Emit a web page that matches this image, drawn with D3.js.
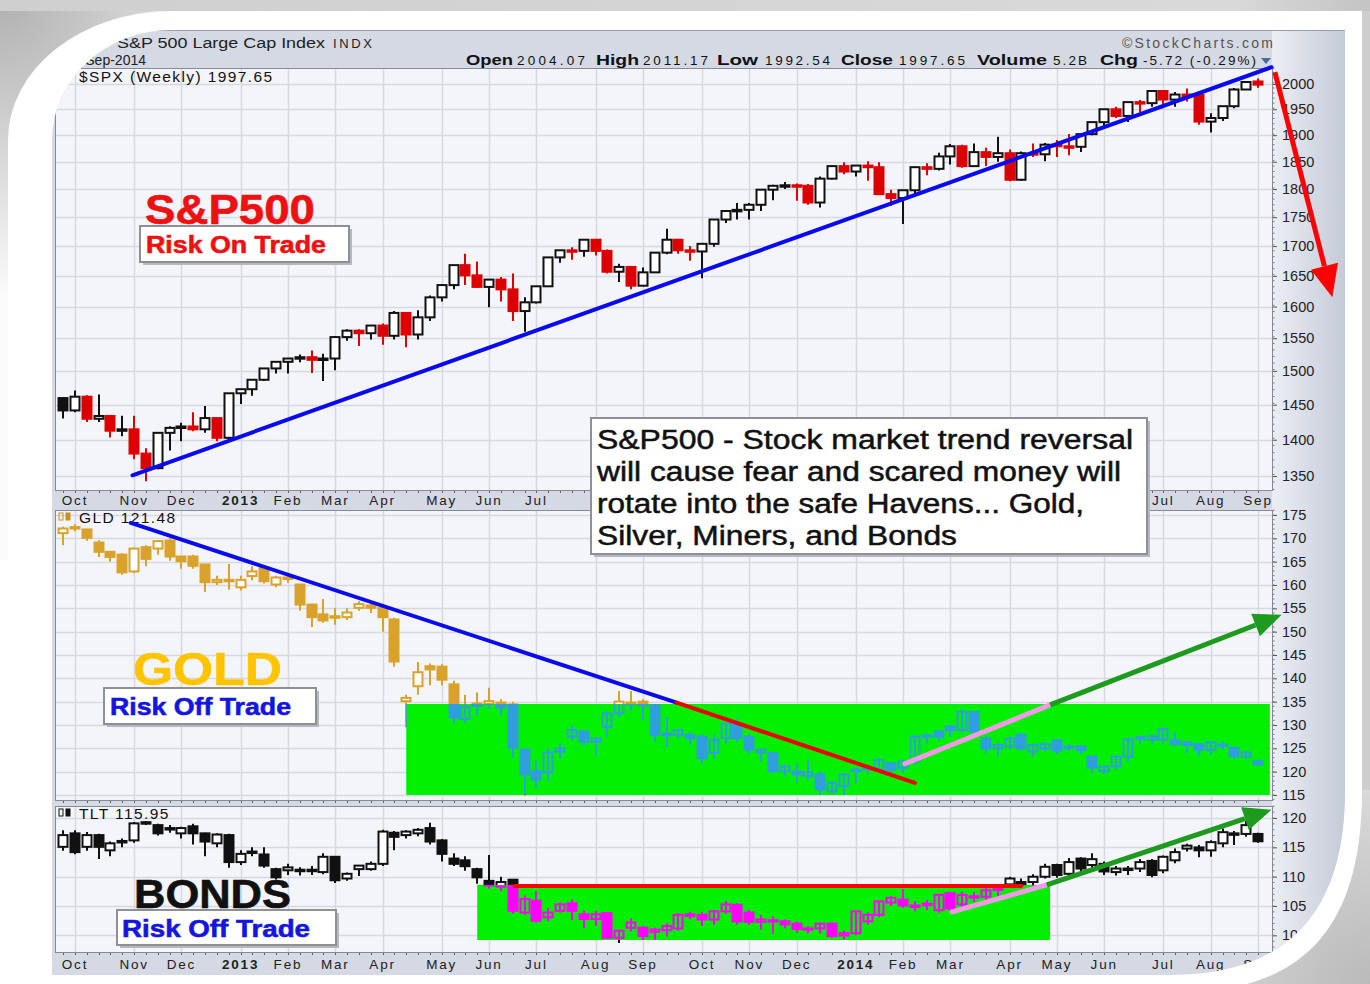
<!DOCTYPE html>
<meta http-equiv="Content-type" content="text/html; charset=UTF-8"/>
<style>body { margin: 0; background: #fff; } * { font-family: 'Liberation Sans', Arial, sans-serif }</style>
<svg width="1370" height="984"></svg>
<script src="https://d3js.org/d3.v7.min.js"></script>
<script>
// weekly bars, one per Monday starting here
var firstWeek = "2012-09-24";

// $SPX weekly [open, high, low, close]
var spx = [
  [1459,1460,1430,1441],[1441,1471,1439,1461],[1461,1464,1425,1429],[1429,1465,1425,1433],
  [1433,1435,1403,1412],[1412,1434,1405,1414],[1414,1434,1373,1380],[1380,1388,1343,1360],
  [1360,1409,1359,1409],[1409,1419,1385,1416],[1416,1424,1398,1418],[1418,1439,1412,1414],
  [1414,1448,1410,1430],[1430,1431,1398,1402],[1402,1467,1398,1466],[1466,1472,1451,1472],
  [1472,1486,1463,1486],[1486,1504,1485,1503],[1503,1514,1496,1513],[1513,1518,1496,1518],
  [1518,1525,1513,1520],[1520,1531,1497,1516],[1516,1526,1485,1518],[1518,1553,1501,1551],
  [1551,1564,1546,1561],[1561,1564,1538,1557],[1557,1570,1548,1569],[1569,1573,1540,1553],
  [1553,1593,1548,1589],[1589,1589,1536,1555],[1555,1594,1548,1582],[1582,1618,1577,1614],
  [1614,1636,1608,1634],[1634,1667,1628,1667],[1667,1687,1635,1650],[1650,1674,1630,1631],
  [1631,1644,1599,1643],[1643,1648,1608,1627],[1627,1654,1577,1592],[1592,1615,1560,1606],
  [1606,1632,1605,1632],[1632,1680,1632,1680],[1680,1693,1672,1692],[1692,1698,1677,1691],
  [1691,1710,1682,1710],[1710,1710,1684,1691],[1691,1694,1654,1656],[1656,1670,1640,1664],
  [1664,1666,1628,1633],[1633,1664,1633,1655],[1655,1690,1655,1688],[1688,1730,1686,1710],
  [1710,1711,1687,1692],[1692,1700,1675,1690],[1690,1704,1646,1703],[1703,1745,1699,1745],
  [1745,1759,1740,1760],[1760,1775,1746,1762],[1762,1775,1746,1771],[1771,1799,1761,1798],
  [1798,1808,1780,1805],[1805,1813,1800,1806],[1806,1810,1779,1805],[1805,1809,1772,1775],
  [1775,1823,1767,1818],[1818,1843,1818,1841],[1841,1849,1827,1831],[1831,1843,1823,1842],
  [1842,1851,1815,1839],[1839,1849,1790,1790],[1790,1799,1770,1783],[1783,1798,1738,1797],
  [1797,1841,1791,1839],[1839,1847,1825,1836],[1836,1867,1834,1859],[1859,1883,1845,1878],
  [1878,1882,1839,1841],[1841,1884,1841,1867],[1867,1876,1842,1858],[1858,1897,1850,1865],
  [1865,1873,1814,1816],[1816,1869,1815,1865],[1865,1884,1859,1863],[1863,1885,1851,1881],
  [1881,1891,1859,1878],[1878,1902,1862,1877],[1877,1901,1868,1901],[1901,1924,1900,1924],
  [1924,1950,1915,1949],[1949,1955,1933,1936],[1936,1963,1925,1963],[1963,1968,1944,1961],
  [1961,1985,1955,1985],[1985,1985,1952,1968],[1968,1984,1955,1978],[1978,1991,1965,1977],
  [1977,1985,1920,1925],[1925,1942,1905,1932],[1932,1955,1927,1955],[1955,1992,1952,1988],
  [1988,2006,1988,2003],[2004.07,2011.17,1992.54,1997.65]
];

// GLD weekly [open, high, low, close]
var gld = [
  [171,172.5,168.5,172],[172,173,171.5,172.3],[171.8,172,169.5,170],[169,169.6,166,167],
  [167,167.2,165,165.9],[166.4,166.8,162.2,162.6],[162.8,168,162.5,167.7],[168,168.5,164,165.5],
  [167.7,169.5,166.5,169.3],[169.4,170,165.2,166],[166,166.2,163.5,165],[166,166.5,163.5,164],
  [164.3,164.5,158.5,160.5],[160.5,162,160,161],[161,164.5,159,160.8],[159.4,162,158.8,161],
  [161.8,164,161,162.8],[163.6,164,160.3,160.7],[160,162,159.5,161.5],[161.5,162,160.5,161.3],
  [160,160.2,154.5,155.7],[155.7,156,151,153],[153.6,157,151.9,152.3],[153.2,155,151.5,153],
  [153,155,152.5,154],[155,156.5,154.5,155.8],[155.5,156.5,154,155],[155,156,150,153],
  [152.5,153,142.5,143.5],[135,136.5,129.5,135.7],[138.2,143.5,136.5,141.2],[142.5,143.2,138.5,141.8],
  [142.4,143,138.5,139.6],[138.6,139.5,130.5,131.5],[131.2,136.5,130.5,133.8],[134,137,132,134.5],
  [134.4,138,133.5,135],[134.7,135.5,132,133.6],[134.3,135,123,125],[124.6,125,114.8,119.3],
  [120,122.5,116.5,118.2],[119.7,125,118,124],[124.2,126,122.8,124.9],[127.4,129.9,126.7,128.8],
  [128.5,129,125.6,126.3],[126.3,127.5,123.5,127],[129.5,133,127.5,132.4],[132.4,137.3,131.7,134.9],
  [134.7,137.3,133,134.5],[134.9,135.5,131,134.1],[134.1,134.5,126.4,127.8],[127.8,131.7,125.3,128],
  [127.8,129.2,127.2,128.8],[127.8,128.5,125.8,127.1],[127.4,128,121.7,122.8],[123.9,128,122.8,126.7],
  [127.1,130.5,126,130.2],[129.9,131.3,126.3,127.1],[127.4,128,123.9,124.6],[124,125,122.1,124.6],
  [123.9,124.2,119.6,120],[120,121.5,119,121],[119.9,121.8,117.6,119.3],[119,122.4,118.2,119.8],
  [119.3,120,115,116.1],[115.7,118,115.2,117.5],[116.8,119.7,115,119.3],[120.3,121,117.5,120],
  [120.4,121.4,119.6,120.7],[120.3,122.8,119.8,122.4],[121.7,122,119.3,120.3],[120.7,122.5,119.7,122.1],
  [122.1,127.9,121.5,127.4],[127.4,128.2,126,127.7],[128.5,129,126.6,127.4],[129.6,130,127.5,128.8],
  [128.8,133.4,128.3,132.7],[132.7,133,127.5,128.5],[127,127.7,123.9,124.9],[124.9,126.3,123.5,125.6],
  [125.3,127.5,124.8,127],[127.8,128.3,124.5,124.9],[124.2,126,123.2,125.6],[124.8,126.3,124.3,125.8],
  [126.6,127,123.8,124.4],[125,126,124.5,125.3],[125.3,125.6,123.8,124.5],[123.1,123.4,119.7,120.8],
  [120,121.4,119.5,121],[121,123.4,120.5,123.1],[123.1,127.3,122.2,126.8],[127,127.8,126,127.3],
  [126.8,128,126,127.5],[126.8,129.5,126,129],[126.6,128.5,125.3,125.8],[126.2,126.6,124,125.6],
  [125.8,126,123.4,124.6],[124.6,126.6,123.8,126.2],[125.6,126.5,124.8,125.7],[125,125.3,122.7,123.2],
  [123.1,124.5,122.7,124],[122.2,122.4,121.2,121.48]
];

// TLT weekly [open, high, low, close]
var tlt = [
  [115,117.9,114.4,117],[117.3,117.9,113.8,114.1],[115,117.6,114.4,117],[117,117.3,113,115],
  [114.4,116,113.5,115.6],[115.8,116.5,115,116],[116.1,119.3,115.8,119],[119,119.5,118.8,119.2],
  [118.7,119,117,117.3],[118,118.8,117.5,118.2],[117.3,118.5,116.5,118.2],[118.5,119,115.5,117.3],
  [117.3,117.5,113.5,115.9],[115.6,117.4,115,117.1],[117,117.3,111.5,112.4],[112.4,114.5,112,113.8],
  [114.1,115,113.5,114.2],[113.7,115,111.5,111.8],[111.2,111.5,109.5,109.8],[111,112.2,110.3,111.5],
  [111.1,111.6,110.2,111],[111,111.8,110.3,111.1],[110.7,114,110.4,113.3],[113.3,113.5,108.9,109.3],
  [109.6,110.7,109.3,110.4],[111.2,112,110.1,111.8],[111.2,112.6,111,112.1],[112.1,118,111.8,117.6],
  [117.4,117.8,114.5,116.7],[117,117.9,116.5,117.6],[117.3,118.3,116.9,117.9],[118.2,119.2,115.5,115.9],
  [116.1,116.4,112.6,113.8],[113,114,111.8,112.1],[112.7,113.5,111,111.7],[111.2,111.5,108.8,109.8],
  [109.2,113.7,108,108.4],[108.2,110,107.5,109],[109.4,109.6,103.7,104.1],[103.8,106.8,103.5,106.1],
  [105.8,107.5,102.2,102.4],[103,104.6,102.4,103.8],[104.1,105.6,103.9,105.2],[105.4,106.1,102.6,104.1],
  [103.5,104.2,101.2,102.7],[102.7,104.2,101.6,103.5],[103.7,103.9,99.4,99.5],[99.5,101,98.7,100.7],
  [101.2,102.9,100.7,102.1],[101.2,101.6,99.2,99.8],[100.5,101.3,99.2,100.9],[100.8,102,99.8,101.5],
  [101.1,103.8,100.8,103.4],[103.2,104,102.8,103.5],[103.4,104,101.6,102.6],[102.6,104.3,101.8,104],
  [104,105.9,103.7,105.2],[105.1,105.5,101.8,102.3],[103.8,104.4,101.8,102.2],[102.2,103.5,101,102.6],
  [102.5,103.2,100.3,102.3],[102.3,102.7,101.2,101.8],[101.9,102.4,100.5,101],[101,101.6,100.3,101.1],
  [101.1,102.2,100.3,101.9],[101.9,102.2,99.6,99.8],[99.9,100.8,99.3,100.3],[100.3,104.2,100,104],
  [102.3,103.9,101.8,103.4],[103.4,106,103.1,105.7],[105.5,106.7,105,106.3],[106,107.9,104.7,105],
  [104.9,105.8,104.1,105],[105.1,106,104.3,105.3],[104.2,107.1,103.9,106.8],[107.1,107.4,104.2,104.5],
  [105.2,107.4,104.8,106.8],[106.6,107.4,105.7,106.4],[106.5,108.6,106,107.6],[107.9,108.3,106.6,107.9],
  [108.6,110,108.2,109.6],[109,109.7,108.3,108.6],[109,110.4,108.4,109.9],[109.9,112.2,109.7,111.6],
  [111.9,112.2,109.8,110.2],[110.4,113.2,110,112.4],[113,113.3,110.8,111.3],[111.9,114,111.5,112.9],
  [112.1,112.6,110.3,110.8],[110.7,111.8,110.2,111.3],[111.2,111.8,110.3,111.3],[111.3,113,110.8,112.4],
  [112.6,113,109.9,110.2],[111,113.6,110.6,113.3],[112.7,114.8,112.3,114.1],[114.7,115.6,114.3,115.2],
  [114.9,115.4,113.3,114.4],[114.4,116.2,113.4,115.8],[115.6,118.2,115,117.5],[117.2,117.8,115.4,117.3],
  [117.2,119.5,116.8,118.7],[117.2,117.5,115.8,115.95]
];

var spxTicks = [1350,1400,1450,1500,1550,1600,1650,1700,1750,1800,1850,1900,1950,2000];
var gldTicks = [115,120,125,130,135,140,145,150,155,160,165,170,175];
var tltTicks = [100,105,110,115,120];

// header quote: label, value
var quote = [["Open","2004.07"],["High","2011.17"],["Low","1992.54"],["Close","1997.65"],
             ["Volume","5.2B"],["Chg","-5.72 (-0.29%)"]];

// hand drawn annotations, [date, price]
var spxTrend = [["2012-11-04",1351],["2014-09-09",2034]];
var spxDownArrow = [["2014-09-11",2024],["2014-10-15",1615]];
var gldDownBlue = [["2012-11-03",173.3],["2013-09-22",134.8]];
var gldDownRed = [["2013-09-22",134.8],["2014-02-10",117.6]];
var gldUpPink = [["2014-02-04",121.7],["2014-05-01",134.3]];
var gldUpArrow = [["2014-05-01",134.3],["2014-09-15",153.6]];
var gldBox = [["2013-04-15",134.5],["2014-09-08",115]];
var tltFlatRed = [["2013-06-18",108.4],["2014-04-14",108.4]];
var tltUpPink = [["2014-03-04",104],["2014-04-29",108.6]];
var tltUpArrow = [["2014-04-29",108.6],["2014-09-09",121.4]];
var tltBox = [["2013-05-27",108.6],["2014-05-01",99.2]];

var svg = d3.select("svg");
var parseDate = d3.timeParse("%Y-%m-%d");
var weeks = spx.map(function(d, i) { return d3.timeWeek.offset(parseDate(firstWeek), i); });

var x = d3.scaleTime()
    .domain([parseDate("2012-10-01"), parseDate("2014-09-01")])
    .range([75, 1258]);

var left = 55, right = 1272;
var panels = [
  {data: spx, top: 68, bottom: 490, ticks: spxTicks, minor: 10,
   y: d3.scaleLog().domain([1350, 2000]).range([476, 84])},
  {data: gld, top: 510, bottom: 800, ticks: gldTicks, minor: 1,
   y: d3.scaleLinear().domain([115, 175]).range([795, 515])},
  {data: tlt, top: 806, bottom: 952, ticks: tltTicks, minor: 1,
   y: d3.scaleLinear().domain([105, 120]).range([906, 818])}
];

var defs = svg.append("defs");
var grad = defs.append("linearGradient").attr("id", "axisbg");
grad.append("stop").attr("offset", "0%").attr("stop-color", "#eceef4");
grad.append("stop").attr("offset", "100%").attr("stop-color", "#c4cad7");
var cornerGrad = defs.append("radialGradient").attr("id", "corner")
    .attr("gradientUnits", "userSpaceOnUse").attr("cx", 0).attr("cy", 0).attr("r", 300);
cornerGrad.append("stop").attr("offset", "0%").attr("stop-color", "#b0b0b0");
cornerGrad.append("stop").attr("offset", "50%").attr("stop-color", "#d6d6d6");
cornerGrad.append("stop").attr("offset", "100%").attr("stop-color", "#fbfbfb");
var brGrad = defs.append("radialGradient").attr("id", "brcorner")
    .attr("gradientUnits", "userSpaceOnUse").attr("cx", 1370).attr("cy", 984).attr("r", 200);
brGrad.append("stop").attr("offset", "0%").attr("stop-color", "#bababa");
brGrad.append("stop").attr("offset", "100%").attr("stop-color", "#dadada");
var topGrad = defs.append("linearGradient").attr("id", "topband");
topGrad.append("stop").attr("offset", "0%").attr("stop-color", "#cfcfcf");
topGrad.append("stop").attr("offset", "90%").attr("stop-color", "#d9d9d9");
topGrad.append("stop").attr("offset", "100%").attr("stop-color", "#c4c4c4");

// chart outline with the rounded cut corners of the frame
defs.append("clipPath").attr("id", "chartclip").append("path")
    .attr("d", "M52,140 A120,110 0 0 1 172,30 L1345,30 L1345,790 C1345,915 1285,975 1170,975 L52,975 Z");

var chart = svg.append("g").attr("clip-path", "url(#chartclip)");
chart.append("rect").attr("x", 52).attr("y", 30).attr("width", 1293).attr("height", 945)
    .attr("fill", "#d4d9e3");
chart.append("rect").attr("x", 1272).attr("y", 30).attr("width", 73).attr("height", 945)
    .attr("fill", "url(#axisbg)");

var months = d3.timeMonth.range(parseDate("2012-10-01"), parseDate("2014-09-02"))
    .map(function(m) { return d3.timeMonday.ceil(m); });

function candles(g, p, colorFn, hollowFill) {
  var y = p.y;
  var bars = g.selectAll("g.bar").data(p.data).enter().append("g")
      .attr("class", "bar")
      .attr("transform", function(d, i) { return "translate(" + Math.round(x(weeks[i])) + ",0)"; });
  bars.append("line")
      .attr("y1", function(d) { return y(d[1]); })
      .attr("y2", function(d) { return y(d[2]); })
      .attr("stroke", colorFn)
      .attr("stroke-width", 2);
  bars.append("rect")
      .attr("x", -4.5)
      .attr("width", 9)
      .attr("y", function(d) { return Math.min(y(d[0]), y(d[3])) - 0.5; })
      .attr("height", function(d) { return Math.max(1.5, Math.abs(y(d[0]) - y(d[3]))); })
      .attr("fill", function(d, i) { return d[3] >= d[0] ? hollowFill : colorFn(d, i); })
      .attr("stroke", colorFn)
      .attr("stroke-width", 2);
}

function pt(p, d) { return [x(parseDate(d[0])), p.y(d[1])]; }

function line(g, p, seg, color, w) {
  var a = pt(p, seg[0]), b = pt(p, seg[1]);
  g.append("line").attr("x1", a[0]).attr("y1", a[1]).attr("x2", b[0]).attr("y2", b[1])
      .attr("stroke", color).attr("stroke-width", w).attr("stroke-linecap", "round");
}

function arrow(g, p, seg, color, w, len, half) {
  var a = pt(p, seg[0]), b = pt(p, seg[1]);
  var ang = Math.atan2(b[1] - a[1], b[0] - a[0]);
  var bx = b[0] - len * Math.cos(ang), by = b[1] - len * Math.sin(ang);
  g.append("line").attr("x1", a[0]).attr("y1", a[1]).attr("x2", bx).attr("y2", by)
      .attr("stroke", color).attr("stroke-width", w);
  g.append("path")
      .attr("d", "M" + b[0] + "," + b[1] +
        "L" + (bx + half * Math.sin(ang)) + "," + (by - half * Math.cos(ang)) +
        "L" + (bx - half * Math.sin(ang)) + "," + (by + half * Math.cos(ang)) + "Z")
      .attr("fill", color);
}

function boxRect(p, box) {
  var a = pt(p, box[0]), b = pt(p, box[1]);
  return {x: a[0], y: a[1], width: b[0] - a[0], height: b[1] - a[1]};
}

panels.forEach(function(p, k) {
  var g = chart.append("g");
  g.append("rect").attr("x", left).attr("y", p.top)
      .attr("width", right - left).attr("height", p.bottom - p.top)
      .attr("fill", "#f4f5fa");
  // grid
  g.selectAll("line.h").data(p.ticks).enter().append("line")
      .attr("x1", left).attr("x2", right)
      .attr("y1", function(d) { return Math.round(p.y(d)) + 0.5; })
      .attr("y2", function(d) { return Math.round(p.y(d)) + 0.5; })
      .attr("stroke", "#d6d9e1").attr("stroke-width", 1.5);
  g.selectAll("line.v").data(months).enter().append("line")
      .attr("x1", function(d) { return Math.round(x(d)) + 0.5; })
      .attr("x2", function(d) { return Math.round(x(d)) + 0.5; })
      .attr("y1", p.top).attr("y2", p.bottom)
      .attr("stroke", "#d6d9e1").attr("stroke-width", 1.5);
  // y axis on the right
  var ax = g.append("g").attr("transform", "translate(" + right + ",0)")
      .call(d3.axisRight(p.y).tickValues(p.ticks).tickSize(5).tickPadding(5).tickFormat(d3.format("d")));
  ax.select(".domain").remove();
  ax.selectAll("text").attr("font-family", "DejaVu Sans").attr("font-size", 14.5).attr("fill", "#222");
  ax.selectAll("line").attr("stroke", "#555");
  var minors = d3.range(Math.ceil(p.y.invert(p.bottom)), p.y.invert(p.top), p.minor);
  g.selectAll("line.mt").data(minors).enter().append("line")
      .attr("x1", right).attr("x2", right + 2.5)
      .attr("y1", function(d) { return p.y(d); }).attr("y2", function(d) { return p.y(d); })
      .attr("stroke", "#777");
  // week ticks on the bottom edge
  g.selectAll("line.wk").data(weeks).enter().append("line")
      .attr("x1", function(d) { return Math.round(x(d)) + 0.5; })
      .attr("x2", function(d) { return Math.round(x(d)) + 0.5; })
      .attr("y1", p.bottom).attr("y2", p.bottom + 3)
      .attr("stroke", "#666");
  p.g = g;
});

// S&P candles
candles(panels[0].g, panels[0], function(d, i) {
  return (i > 0 && d[3] < spx[i - 1][3]) ? "#dd0000" : "#111";
}, "#fff");

// GLD candles, green box and the recolored bars inside it
candles(panels[1].g, panels[1], function() { return "#d9a22b"; }, "#fff");
var gb = boxRect(panels[1], gldBox);
panels[1].g.append("rect").attr("x", gb.x).attr("y", gb.y).attr("width", gb.width).attr("height", gb.height)
    .attr("fill", "#00f000");
defs.append("clipPath").attr("id", "gclip").append("rect")
    .attr("x", gb.x).attr("y", gb.y).attr("width", gb.width).attr("height", gb.height);
candles(panels[1].g.append("g").attr("clip-path", "url(#gclip)"), panels[1], function() { return "#2e9fdc"; }, "none");

// TLT candles
candles(panels[2].g, panels[2], function() { return "#111"; }, "#fff");
var tb = boxRect(panels[2], tltBox);
panels[2].g.append("rect").attr("x", tb.x).attr("y", tb.y).attr("width", tb.width).attr("height", tb.height)
    .attr("fill", "#00f000");
defs.append("clipPath").attr("id", "tclip").append("rect")
    .attr("x", tb.x).attr("y", tb.y).attr("width", tb.width).attr("height", tb.height);
candles(panels[2].g.append("g").attr("clip-path", "url(#tclip)"), panels[2], function() { return "#ff00ff"; }, "none");

// panel borders
panels.forEach(function(p) {
  p.g.append("rect").attr("x", left + 0.5).attr("y", p.top + 0.5)
      .attr("width", right - left).attr("height", p.bottom - p.top)
      .attr("fill", "none").attr("stroke", "#858b96");
});

// month labels; the upper row is hidden behind the text box in the middle
[[500, function(d) { return x(d) < 590 || x(d) > 1148; }], [964, function() { return true; }]].forEach(function(row) {
  chart.selectAll(null).data(months.filter(row[1])).enter().append("text")
      .attr("x", function(d) { return x(d); })
      .attr("y", row[0] + 5)
      .attr("text-anchor", "middle")
      .attr("font-family", "DejaVu Sans")
      .attr("font-size", 13.5)
      .attr("letter-spacing", 1.8)
      .attr("font-weight", function(d) { return d.getMonth() === 0 ? "bold" : "normal"; })
      .attr("fill", "#222")
      .text(function(d) { return d.getMonth() === 0 ? d3.timeFormat("%Y")(d) : d3.timeFormat("%b")(d); });
});

// header
chart.append("line").attr("x1", 52).attr("x2", 1345).attr("y1", 30.5).attr("y2", 30.5).attr("stroke", "#9aa0ab");
chart.append("text").attr("x", 117).attr("y", 48).attr("font-family", "DejaVu Sans").attr("font-size", 14)
    .attr("fill", "#222").attr("textLength", 208).attr("lengthAdjust", "spacingAndGlyphs")
    .text("S&P 500 Large Cap Index");
chart.append("text").attr("x", 333).attr("y", 48).attr("font-family", "DejaVu Sans").attr("font-size", 13)
    .attr("fill", "#222").attr("textLength", 39).text("INDX");
chart.append("text").attr("x", 146).attr("y", 65).attr("font-family", "DejaVu Sans").attr("font-size", 14)
    .attr("fill", "#222").attr("text-anchor", "end").text("5-Sep-2014");
chart.append("text").attr("x", 1273).attr("y", 48).attr("font-family", "DejaVu Sans").attr("font-size", 14)
    .attr("fill", "#555").attr("text-anchor", "end").attr("textLength", 151).text("\u00a9StockCharts.com");
// label x, label width, value x, value width
var quoteLayout = [[466,47,517,68],[596,43,643,65],[717,41,765,65],[841,52,899,66],[977,70,1053,34],[1100,38,1143,113]];
quote.forEach(function(q, i) {
  var L = quoteLayout[i];
  chart.append("text").attr("x", L[0]).attr("y", 65).attr("font-family", "DejaVu Sans").attr("font-weight", "bold")
      .attr("font-size", 15).attr("fill", "#111").attr("textLength", L[1]).attr("lengthAdjust", "spacingAndGlyphs").text(q[0]);
  chart.append("text").attr("x", L[2]).attr("y", 65).attr("font-family", "DejaVu Sans")
      .attr("font-size", 13.5).attr("fill", "#111").attr("textLength", L[3]).text(q[1]);
});
chart.append("path").attr("d", "M1261,58 L1271,58 L1266,64 Z").attr("fill", "#4a6a9a");

// panel titles
var titles = [["$SPX (Weekly) 1997.65", 82, "#111"], ["GLD 121.48", 523, "#c8921a"], ["TLT 115.95", 819, "#111"]];
titles.forEach(function(t) {
  chart.append("text").attr("x", 79).attr("y", t[1]).attr("font-family", "DejaVu Sans Mono")
      .attr("font-size", 15.5).attr("letter-spacing", 1.4).attr("fill", "#111").text(t[0]);
  chart.append("rect").attr("x", 59).attr("y", t[1] - 10).attr("width", 4).attr("height", 7).attr("fill", "none").attr("stroke", t[2]);
  chart.append("rect").attr("x", 66).attr("y", t[1] - 10).attr("width", 4).attr("height", 7).attr("fill", t[2]).attr("stroke", t[2]);
});

// annotations: trend lines and arrows
var an = chart.append("g");
line(an, panels[0], spxTrend, "#0a0aee", 4);
arrow(an, panels[0], spxDownArrow, "#ff0000", 5, 32, 14);
line(an, panels[1], gldDownBlue, "#0a0aee", 4);
line(an, panels[1], gldDownRed, "#ee0000", 4);
line(an, panels[1], gldUpPink, "#f29ae6", 5);
arrow(an, panels[1], gldUpArrow, "#1e9a1e", 5, 28, 12);
line(an, panels[2], tltFlatRed, "#ff0000", 4);
line(an, panels[2], tltUpPink, "#f29ae6", 5);
arrow(an, panels[2], tltUpArrow, "#1e9a1e", 5, 28, 12);

// text boxes
function tbox(bx, by, bw, bh) {
  an.append("rect").attr("x", bx + 3).attr("y", by + 3).attr("width", bw).attr("height", bh).attr("fill", "#b5b8be");
  an.append("rect").attr("x", bx).attr("y", by).attr("width", bw).attr("height", bh)
      .attr("fill", "#fff").attr("stroke", "#8e9096").attr("stroke-width", 2);
}
function label(tx, ty, size, color, len, str) {
  an.append("text").attr("x", tx).attr("y", ty).attr("font-size", size).attr("font-weight", "bold")
      .attr("fill", color).attr("stroke", color).attr("stroke-width", 0.6)
      .attr("textLength", len).attr("lengthAdjust", "spacingAndGlyphs").text(str);
}
label(145, 224, 43, "#ee1111", 170, "S&P500");
tbox(140, 226, 209, 36);
label(146, 253, 23, "#ee1111", 180, "Risk On Trade");
label(133, 685, 46, "#ffc400", 149, "GOLD");
tbox(104, 688, 212, 36);
label(110, 715, 24, "#1515e0", 181, "Risk Off Trade");
label(134, 908, 41, "#111", 157, "BONDS");
tbox(117, 910, 219, 35);
label(122, 937, 24, "#1515e0", 188, "Risk Off Trade");

tbox(591, 418, 556, 136);
var msg = [["S&P500 - Stock market trend reversal", 536], ["will cause fear and scared money will", 524],
           ["rotate into the safe Havens... Gold,", 487], ["Silver, Miners, and Bonds", 360]];
msg.forEach(function(m, i) {
  an.append("text").attr("x", 597).attr("y", 449 + i * 32).attr("font-size", 27)
      .attr("fill", "#111").attr("stroke", "#111").attr("stroke-width", 0.5)
      .attr("textLength", m[1]).attr("lengthAdjust", "spacingAndGlyphs").text(m[0]);
});

// decorative frame around the chart
var frame = svg.append("g");
frame.append("path")
    .attr("d", "M0,0 L260,0 L260,11 L172,11 A164,129 0 0 0 8,140 L8,560 L0,560 Z")
    .attr("fill", "url(#corner)");
frame.append("rect").attr("x", 0).attr("y", 0).attr("width", 1370).attr("height", 11).attr("fill", "url(#topband)");
frame.append("rect").attr("x", 1362).attr("y", 11).attr("width", 8).attr("height", 790).attr("fill", "#cdcdcd");
frame.append("path")
    .attr("d", "M1362,790 C1362,935 1298,993 1172,993 L1370,993 L1370,790 Z")
    .attr("fill", "url(#brcorner)");
</script>
